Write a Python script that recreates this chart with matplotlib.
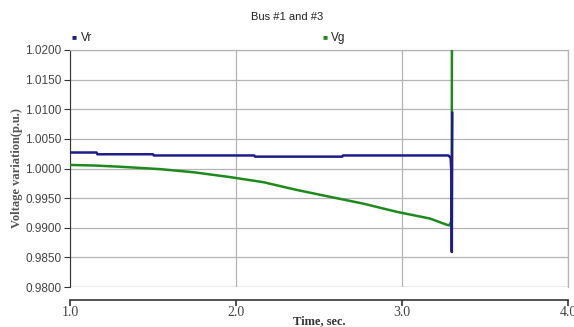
import matplotlib
matplotlib.use("Agg")
import matplotlib.pyplot as plt

# data
t_vr = [1.0, 1.16, 1.165, 1.5, 1.505, 2.11, 2.115, 2.64, 2.645, 3.28, 3.293, 3.298, 3.300, 3.303]
vr = [1.0027, 1.0027, 1.0024, 1.0024, 1.0022, 1.0022, 1.0020, 1.0020, 1.0022, 1.0022, 1.0018, 0.9990, 0.9859, 1.0094]

t_vg = [1.0, 1.15, 1.3, 1.54, 1.75, 1.964, 2.165, 2.366, 2.566, 2.767, 2.968, 3.169, 3.27, 3.285, 3.296, 3.299, 3.300, 3.301]
vg = [1.0006, 1.0005, 1.0003, 0.9999, 0.99935, 0.99855, 0.99769, 0.99638, 0.99522, 0.99407, 0.99269, 0.99155, 0.9905, 0.9904, 0.9910, 0.9925, 1.0060, 1.0250]

yticks = [0.98, 0.985, 0.99, 0.995, 1.0, 1.005, 1.01, 1.015, 1.02]
xticks = [1.0, 2.0, 3.0, 4.0]

blue = "#1c1c8a"
green = "#1e8a1e"
grid_c = "#b4b4b4"

plt.rcParams["font.family"] = ["Liberation Sans", "DejaVu Sans"]

fig = plt.figure(figsize=(5.74, 3.27), dpi=100)
ax = fig.add_axes([70 / 574, 1 - 287 / 327, 498 / 574, 237 / 327])

ax.plot(t_vg, vg, color=green, lw=1.8, solid_joinstyle="round", zorder=3)
ax.plot(t_vr, vr, color=blue, lw=1.8, solid_joinstyle="round", zorder=4)

ax.set_xlim(1.0, 4.0)
ax.set_ylim(0.98, 1.02)
ax.set_xticks(xticks)
ax.set_xticklabels([f"{v:.1f}" for v in xticks])
ax.set_yticks(yticks)
ax.set_yticklabels([f"{v:.4f}" for v in yticks], fontsize=8.5)

ax.grid(True, color=grid_c, lw=0.9)
ax.axhline(0.98, color=grid_c, lw=0.9, zorder=1)
for s in ["top", "right"]:
    ax.spines[s].set_color(grid_c)
    ax.spines[s].set_linewidth(0.9)
ax.spines["left"].set_color("#333333")
ax.spines["bottom"].set_position(("outward", 9))
ax.spines["bottom"].set_color("#333333")
ax.spines["bottom"].set_linewidth(1.2)
ax.tick_params(axis="y", direction="out", length=4, width=0.8, pad=2, colors="#333333")
ax.tick_params(axis="x", direction="out", length=4, width=1.2, pad=1, colors="#333333",
               labelfontfamily="Liberation Serif", labelsize=10)
for lab in ax.get_yticklabels() + ax.get_xticklabels():
    lab.set_color("#444444")

ax.set_xlabel("Time, sec.", family="Liberation Serif", fontweight="bold", fontsize=9, labelpad=-3, color="#333333")
ax.set_ylabel("Voltage variation(p.u.)", family="Liberation Serif", fontweight="bold", fontsize=9, labelpad=2, color="#555555")

fig.text(0.5, 1 - 17 / 327, "Bus #1 and #3", ha="center", va="center", fontsize=8, color="#222222")

# legend entries
fig.text(72 / 574, 1 - 38 / 327, "\u25a0", color=blue, fontsize=6, va="center")
fig.text(81 / 574, 1 - 38 / 327, "Vr", color="#222222", fontsize=8.5, va="center")
fig.text(322 / 574, 1 - 38 / 327, "\u25a0", color=green, fontsize=6, va="center")
fig.text(331 / 574, 1 - 38 / 327, "Vg", color="#222222", fontsize=8.5, va="center")

fig.savefig("out.png", dpi=100)
